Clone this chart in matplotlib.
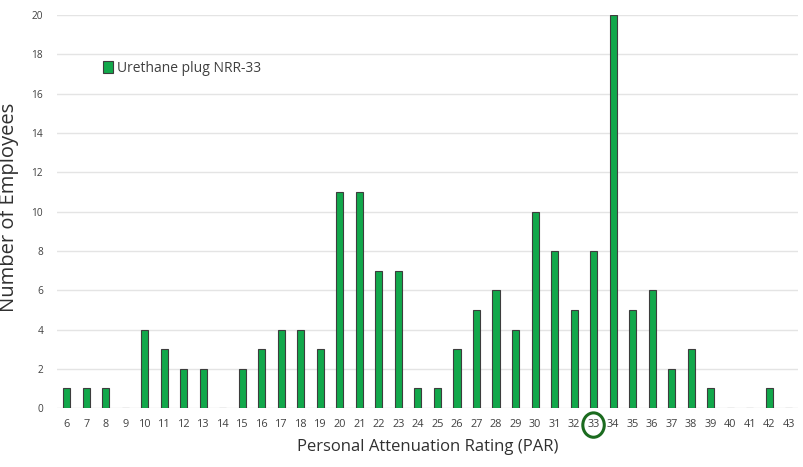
import matplotlib.pyplot as plt
from matplotlib.patches import Ellipse
import matplotlib.transforms as mtransforms
import numpy as np

plt.rcParams['font.family'] = ['Open Sans', 'DejaVu Sans']

par_values = list(range(6, 44))
employees = [1, 1, 1, 0, 4, 3, 2, 2, 0, 2, 3, 4, 4, 3, 11, 11, 7, 7, 1, 1,
             3, 5, 6, 4, 10, 8, 5, 8, 20, 5, 6, 2, 3, 1, 0, 0, 1, 0]
y_ticks = list(range(0, 21, 2))
series_label = 'Urethane plug NRR-33'
circled_par = 33

fig = plt.figure(figsize=(8.04, 4.67), dpi=100)
ax = fig.add_axes([0.071, 0.126, 0.922, 0.842])

x = np.arange(len(par_values))
ax.bar(x, employees, width=0.36, color='#12A84B', edgecolor='#3d3d3d',
       linewidth=0.8, label=series_label, zorder=3)

ax.set_xlim(-0.5, len(par_values) - 0.5)
ax.set_ylim(0, 20)
ax.set_xticks(x)
ax.set_xticklabels([str(v) for v in par_values], fontsize=7.8, color='#404040')
ax.set_yticks(y_ticks)
ax.set_yticklabels([str(v) for v in y_ticks], fontsize=7.3, color='#404040')
ax.tick_params(length=0, pad=8)
ax.tick_params(axis='y', pad=10)
ax.grid(axis='y', color='#e4e4e4', linewidth=1, zorder=0)
for s in ax.spines.values():
    s.set_visible(False)

ax.set_xlabel('Personal Attenuation Rating (PAR)', fontsize=12, color='#303030', labelpad=6)
ax.set_ylabel('Number of Employees', fontsize=14.5, color='#303030')
ax.yaxis.set_label_coords(-0.052, 0.51)

ax.legend(loc='upper left', bbox_to_anchor=(0.045, 0.915), frameon=False,
          fontsize=10, handlelength=0.7, handleheight=0.9, handletextpad=0.3,
          labelcolor='#404040')

# circle around the 33 tick label
trans = mtransforms.blended_transform_factory(ax.transData, ax.transAxes)
idx = par_values.index(circled_par)
ax.add_patch(Ellipse((idx, -0.043), 1.1, 0.062, transform=trans, fill=False,
                     edgecolor='#1b6b1f', linewidth=2.2, clip_on=False))

fig.savefig('out.png', dpi=100)
